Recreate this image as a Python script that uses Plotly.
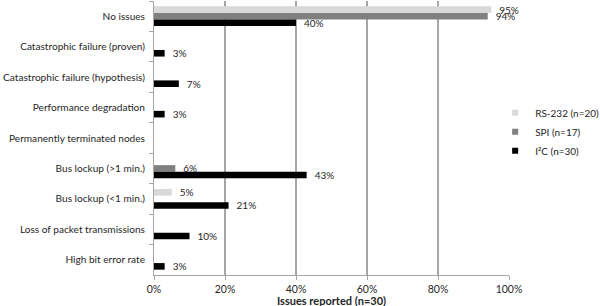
import plotly.graph_objects as go

categories = [
    "No issues",
    "Catastrophic failure (proven)",
    "Catastrophic failure (hypothesis)",
    "Performance degradation",
    "Permanently terminated nodes",
    "Bus lockup (>1 min.)",
    "Bus lockup (<1 min.)",
    "Loss of packet transmissions",
    "High bit error rate",
]
rs232 = [95, None, None, None, None, None, 5, None, None]
spi = [94, None, None, None, None, 6, None, None, None]
i2c = [40, 3, 7, 3, None, 43, 21, 10, 3]

series = [
    ("RS-232 (n=20)", rs232, "#d9d9d9"),
    ("SPI (n=17)", spi, "#808080"),
    ("I²C (n=30)", i2c, "#000000"),
]
xtick_vals = [0, 20, 40, 60, 80, 100]
xtick_text = ["0%", "20%", "40%", "60%", "80%", "100%"]

FONT = "Lato"
TXT = "#262626"
fig = go.Figure()
for name, vals, color in series:
    fig.add_trace(go.Bar(
        y=categories, x=vals, name=name, orientation="h",
        marker=dict(color=color, line=dict(width=0)),
        text=[f"\u2002{v}%" if v is not None else "" for v in vals],
        textposition="outside", cliponaxis=False, constraintext="none",
        textfont=dict(family=FONT, size=10, color=TXT),
        showlegend=False,
    ))
# legend entries with small square swatches
for name, vals, color in series:
    fig.add_trace(go.Scatter(
        x=[None], y=[None], mode="markers", name=name,
        marker=dict(symbol="square", size=6, color=color),
    ))

fig.update_layout(
    width=600, height=306,
    margin=dict(l=154, r=91, t=1, b=31, autoexpand=False),
    barmode="group", bargap=0.35, bargroupgap=0,
    plot_bgcolor="white", paper_bgcolor="white",
    font=dict(family=FONT, size=10.5, color=TXT),
    legend=dict(x=0.961, y=0.645, xanchor="left", yanchor="top",
                bgcolor="rgba(0,0,0,0)",
                font=dict(family=FONT, size=10, color=TXT),
                itemwidth=30),
    showlegend=True,
    annotations=[dict(
        text="<b>Issues reported (n=30)</b>", xref="paper", yref="paper",
        x=0.5, y=0, xanchor="center", yanchor="middle", yshift=-25,
        showarrow=False, font=dict(family=FONT, size=11, color=TXT),
    )],
)
fig.update_xaxes(
    range=[0, 100], tickvals=xtick_vals, ticktext=xtick_text,
    showgrid=True, gridcolor="#a6a6a6", gridwidth=2,
    showline=True, linecolor="#a6a6a6", linewidth=1,
    ticks="outside", ticklen=4, tickcolor="#a6a6a6",
    zeroline=False, automargin=False,
    tickfont=dict(family=FONT, size=10.5, color=TXT),
)
fig.update_yaxes(
    autorange="reversed", showline=True, linecolor="#a6a6a6", linewidth=1,
    ticks="outside", ticklen=4, tickcolor="#a6a6a6", tickson="boundaries",
    showgrid=False, automargin=False, ticklabelstandoff=6,
    tickfont=dict(family=FONT, size=10.1, color=TXT),
)
fig.write_html(
    "out.html",
    config={"displayModeBar": False},
    post_script="document.body.style.margin='0';document.body.style.padding='0';",
)
